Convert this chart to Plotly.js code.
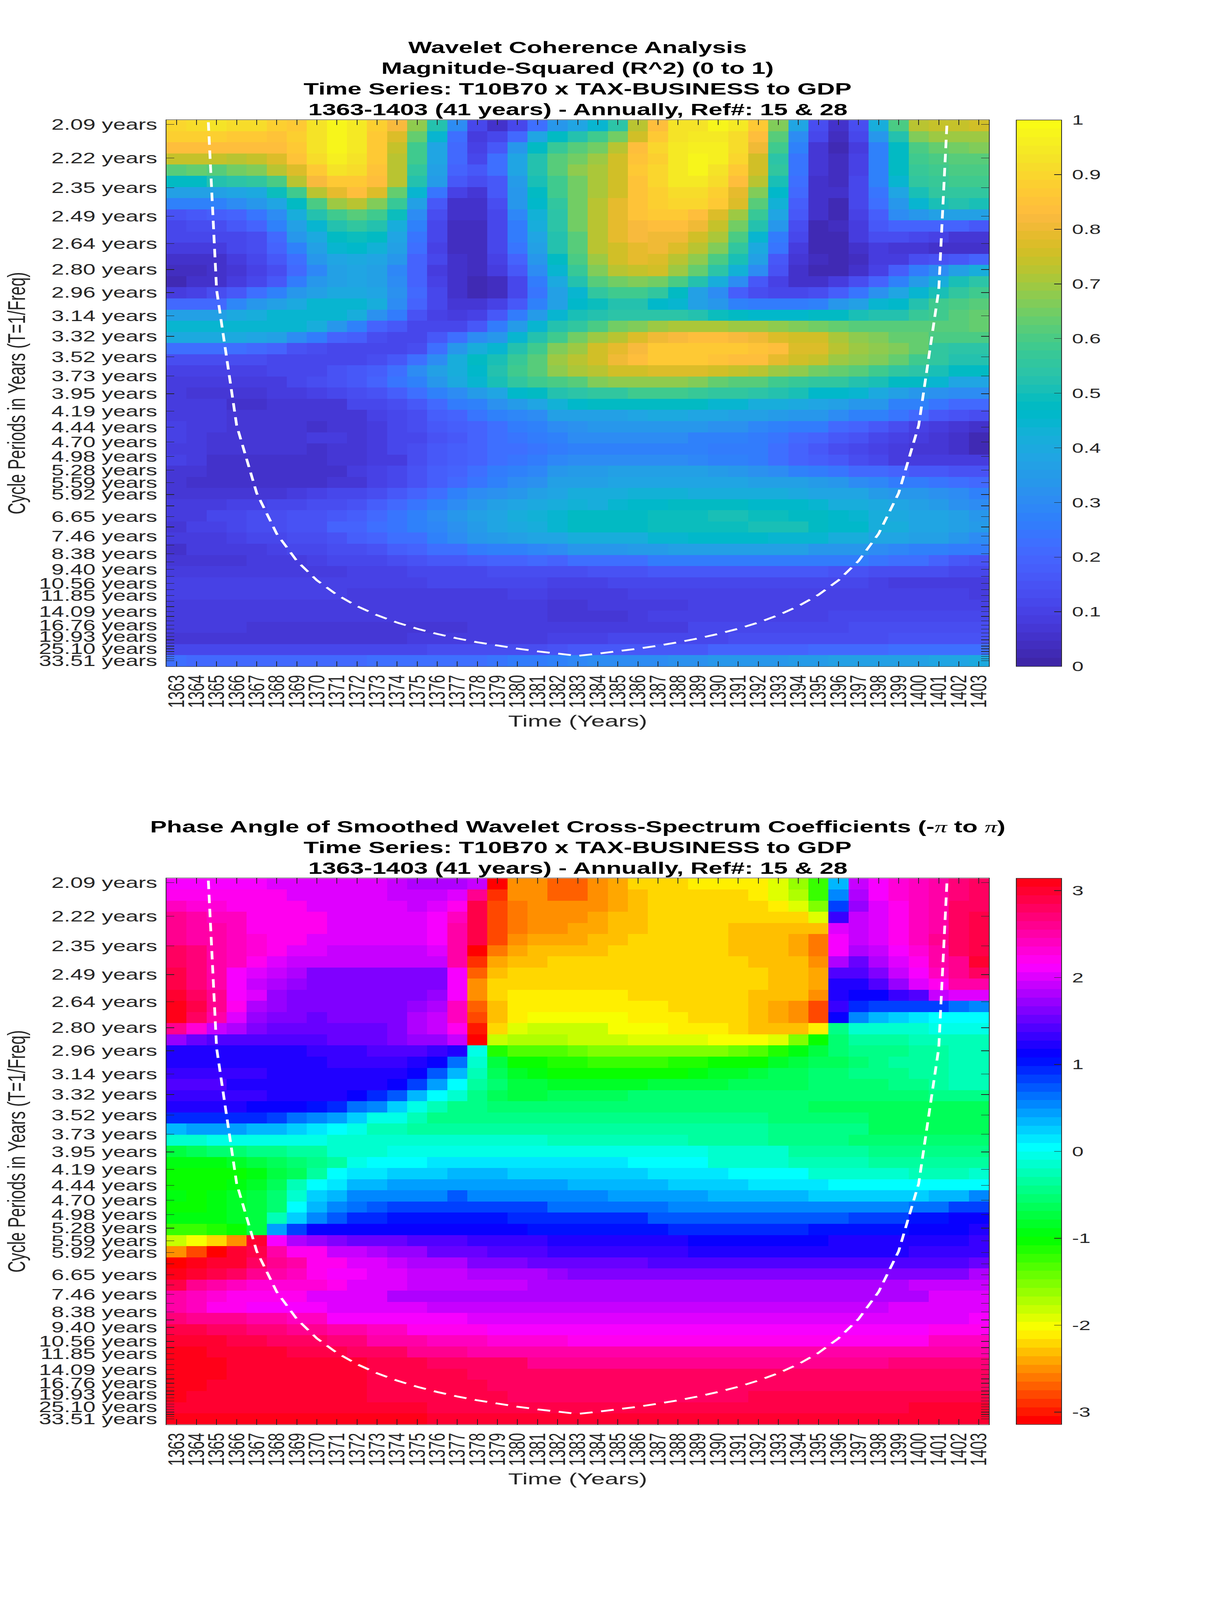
<!DOCTYPE html>
<html><head><meta charset="utf-8"><title>Wavelet Coherence</title>
<script src="https://cdn.plot.ly/plotly-3.0.1.min.js"></script>
<style>html,body{margin:0;padding:0;background:#fff;overflow:hidden}#chart{width:3125px;height:6252px;transform-origin:0 0}</style>
</head><body><div id="chart"></div>
<script>
const years=[1363,1364,1365,1366,1367,1368,1369,1370,1371,1372,1373,1374,1375,1376,1377,1378,1379,1380,1381,1382,1383,1384,1385,1386,1387,1388,1389,1390,1391,1392,1393,1394,1395,1396,1397,1398,1399,1400,1401,1402,1403];
const periods=[2.09,2.22,2.35,2.49,2.64,2.80,2.96,3.14,3.32,3.52,3.73,3.95,4.19,4.44,4.70,4.98,5.28,5.59,5.92,6.27,6.65,7.05,7.46,7.90,8.38,8.88,9.40,9.96,10.56,11.18,11.85,12.55,13.30,14.09,14.92,15.81,16.76,17.75,18.80,19.93,21.11,22.36,23.69,25.10,26.59,28.18,29.85,31.62,33.51];
const labelledPeriods=[2.09,2.22,2.35,2.49,2.64,2.80,2.96,3.14,3.32,3.52,3.73,3.95,4.19,4.44,4.70,4.98,5.28,5.59,5.92,6.65,7.46,8.38,9.40,10.56,11.85,14.09,16.76,19.93,25.10,33.51];
const coiYears=[1364,1365,1366,1367,1368,1369,1370,1371,1372,1373,1374,1375,1376,1377,1378,1379,1380,1381,1382,1383,1384,1385,1386,1387,1388,1389,1390,1391,1392,1393,1394,1395,1396,1397,1398,1399,1400,1401,1402];
const coiPeriods=[1.47,2.94,4.41,5.88,7.35,8.82,10.29,11.76,13.23,14.70,16.17,17.64,19.11,20.58,22.05,23.52,24.99,26.46,27.93,29.40,27.93,26.46,24.99,23.52,22.05,20.58,19.11,17.64,16.17,14.70,13.23,11.76,10.29,8.82,7.35,5.88,4.41,2.94,1.47];
// R-squared x 100, one row per period (top row first), one value per year
const cohPercent=[
[90,92,93,91,91,88,87,93,97,95,88,82,68,53,30,11,5,12,22,33,38,44,54,72,83,93,93,97,94,87,67,38,13,5,13,42,60,72,74,74,76],
[88,88,88,87,87,85,88,93,97,95,86,78,64,45,23,9,11,21,38,47,52,58,65,76,87,93,95,95,92,84,62,30,11,4,11,33,52,67,69,69,69],
[84,84,84,83,84,84,87,93,97,94,87,74,58,39,21,10,16,33,48,57,61,65,72,83,90,95,96,96,92,80,58,28,7,3,9,28,47,60,63,65,67],
[74,74,74,72,74,78,85,92,96,93,86,73,58,38,21,12,22,38,53,62,65,69,75,85,88,95,98,96,90,75,54,24,7,4,10,28,47,58,60,62,62],
[62,63,62,65,67,72,77,86,93,92,85,73,56,37,20,16,22,38,53,62,68,71,76,87,90,95,97,93,86,75,55,24,7,4,10,28,47,57,59,60,60],
[47,48,52,54,55,60,72,82,87,87,83,72,53,35,17,14,17,35,50,58,65,71,76,85,90,94,95,92,84,72,51,22,6,4,11,27,45,56,57,58,58],
[37,37,37,39,40,49,58,72,79,84,77,63,45,24,10,7,16,34,48,58,65,71,76,85,89,92,92,88,79,66,46,21,6,5,12,24,38,50,55,55,55],
[27,27,28,30,33,38,47,60,69,73,66,57,37,17,6,6,14,33,46,56,65,72,79,85,88,90,90,86,77,62,43,18,6,3,12,22,34,44,50,52,50],
[15,17,18,20,24,31,41,52,58,61,58,49,31,13,5,5,12,29,43,54,65,72,79,85,86,86,84,77,69,57,38,16,5,3,10,18,30,34,36,36,37],
[12,13,14,16,20,27,37,45,53,55,53,42,27,12,4,4,12,26,41,54,65,72,79,82,83,83,80,74,65,52,34,13,3,4,9,17,20,20,20,20,17],
[11,11,11,12,14,21,33,40,47,49,47,39,24,11,4,4,12,26,38,52,62,72,79,82,81,80,76,71,60,45,26,11,3,3,8,13,13,12,10,7,7],
[9,9,9,11,13,19,28,37,45,46,43,36,22,10,4,4,12,24,36,52,62,72,76,79,80,78,73,67,56,40,24,9,3,3,5,8,7,7,5,5,5],
[6,5,6,8,11,17,23,33,39,40,39,33,20,11,5,4,10,20,34,47,60,70,75,79,77,73,68,60,50,36,17,7,4,3,4,8,9,13,15,17,19],
[4,4,5,7,10,14,21,29,36,38,37,29,19,8,6,4,9,17,31,44,57,67,73,74,75,70,63,54,43,30,15,6,3,3,6,10,18,25,30,36,41],
[3,5,6,8,12,17,26,33,37,38,37,31,20,10,5,3,4,12,26,40,53,61,65,66,65,60,53,42,30,17,10,5,5,8,13,20,28,35,42,50,54],
[8,10,13,17,22,28,33,37,40,40,38,32,21,12,6,3,4,12,24,36,45,55,58,59,55,48,37,30,18,13,11,11,14,18,24,32,38,44,50,56,59],
[21,21,21,29,33,36,40,44,44,44,41,30,20,11,7,7,10,17,27,37,46,49,52,52,46,44,37,33,28,25,25,25,27,33,36,44,46,53,58,60,61],
[36,36,36,40,41,44,45,45,45,41,32,25,15,10,8,10,16,25,35,44,50,53,54,54,54,54,52,49,48,46,46,46,47,47,50,52,53,57,59,61,63],
[44,44,44,45,45,45,45,41,33,28,20,16,12,11,12,17,25,35,44,52,56,60,65,67,70,71,71,71,70,70,68,67,65,63,62,62,62,62,62,62,63],
[40,40,40,40,38,36,30,26,20,18,13,12,11,16,22,30,33,44,53,58,65,70,73,77,81,82,83,83,82,81,78,75,76,71,68,66,64,63,60,60,60],
[23,23,22,22,21,19,15,14,12,11,11,11,14,22,33,42,44,52,58,66,70,75,79,82,87,87,87,87,87,85,83,78,77,73,70,68,66,63,56,54,54],
[13,13,13,13,13,12,12,12,12,12,14,17,23,31,41,47,50,57,62,69,73,76,81,83,86,87,87,85,84,83,79,76,74,70,68,66,63,59,56,53,52],
[10,10,10,10,10,11,11,12,15,17,18,23,31,36,42,46,53,58,62,68,71,73,75,76,78,78,78,75,74,72,70,68,65,63,61,59,56,54,51,47,47],
[8,8,8,8,8,9,11,13,15,16,19,24,28,33,40,45,51,55,58,60,62,66,68,68,68,68,66,64,62,61,59,57,56,55,53,50,48,47,44,38,38],
[8,7,7,7,7,8,8,10,12,13,15,18,23,27,31,35,39,46,48,52,54,55,56,58,59,59,57,56,55,54,53,51,46,46,44,40,36,33,32,30,30],
[8,8,8,6,6,7,7,7,7,11,12,13,17,21,26,28,32,35,38,43,46,47,47,47,47,47,47,45,44,42,41,40,38,37,33,33,27,27,24,21,21],
[8,8,8,7,7,7,7,7,7,7,10,11,13,18,20,24,27,29,31,36,37,37,37,39,40,40,38,38,37,36,35,34,33,31,27,27,24,21,17,15,13],
[10,8,8,7,7,7,7,5,7,7,9,11,13,16,18,20,23,26,27,30,32,34,34,34,34,34,34,32,32,29,27,26,26,21,19,17,14,10,8,7,6],
[10,9,7,7,7,7,7,8,8,7,9,11,12,15,17,19,22,24,25,27,30,30,31,31,30,30,28,28,27,26,24,21,19,17,15,11,10,8,7,5,3],
[9,9,7,7,7,7,7,6,7,7,9,11,13,16,18,20,22,23,24,26,27,28,28,28,28,27,27,26,26,25,23,20,16,14,12,10,8,7,7,5,3],
[10,9,6,6,6,6,6,6,7,7,8,9,13,16,18,20,22,24,25,29,30,31,31,31,31,31,29,28,27,26,23,20,18,17,13,11,9,9,8,8,8],
[7,7,6,6,6,6,6,5,5,8,10,11,15,18,20,22,25,27,29,33,35,35,36,36,36,36,36,35,33,32,30,28,26,24,21,21,19,17,16,15,15],
[7,5,5,5,5,5,5,6,7,7,10,12,15,18,21,24,27,30,32,36,37,37,38,39,39,39,39,39,38,37,37,36,35,34,31,29,26,25,24,23,21],
[7,7,7,7,7,7,9,10,11,12,14,16,20,23,27,30,32,34,36,38,41,41,42,43,43,43,42,42,41,41,41,40,39,39,38,35,34,33,32,30,28],
[8,8,8,10,10,11,12,13,14,15,18,21,24,27,30,33,36,38,40,41,43,42,44,46,46,47,48,48,48,46,46,46,45,42,41,40,38,37,35,32,30],
[9,9,12,12,13,13,15,15,16,18,21,24,27,30,33,36,39,41,43,44,47,47,47,47,49,49,49,50,50,49,49,47,47,46,45,41,40,39,38,37,34],
[7,10,10,12,14,14,15,15,19,20,22,24,27,29,32,35,38,40,42,44,47,47,47,47,49,49,49,49,49,50,50,50,47,46,46,42,41,39,38,37,35],
[8,8,8,10,12,12,13,14,15,18,19,22,23,27,30,33,35,36,38,39,41,41,42,42,45,45,46,46,46,46,45,44,44,42,41,39,38,37,36,33,31],
[6,8,8,8,9,10,11,12,13,13,15,18,20,22,23,25,27,28,29,31,33,33,34,35,35,36,36,36,36,36,36,36,34,33,33,30,29,28,27,26,25],
[7,7,7,7,9,9,9,10,11,11,12,13,15,16,17,18,19,20,21,20,22,22,23,23,25,25,25,25,25,25,25,25,25,25,25,24,23,22,19,17,15],
[8,8,8,8,8,8,9,9,9,10,10,10,11,11,12,12,13,13,14,14,14,15,15,15,16,16,16,16,16,16,16,16,16,15,15,14,14,13,13,12,12],
[10,10,10,10,10,10,10,10,10,10,10,10,10,11,11,11,11,11,11,10,10,10,12,12,12,12,12,12,12,12,12,12,12,12,12,10,9,9,9,9,9],
[10,10,10,10,10,10,10,10,10,9,9,9,9,9,9,9,9,10,10,8,8,8,8,10,10,10,10,10,10,10,10,10,10,10,10,10,10,10,10,10,9],
[8,8,8,8,8,8,8,8,9,9,9,9,9,9,9,9,9,9,9,7,7,9,9,9,9,9,10,10,10,10,10,10,10,10,10,10,10,10,10,10,10],
[8,8,8,8,8,8,8,8,8,8,8,8,8,8,9,9,9,9,9,7,7,7,7,9,10,10,10,10,10,10,10,10,10,11,11,11,11,11,11,11,11],
[8,8,8,8,7,7,7,7,7,7,7,7,7,7,7,9,9,9,9,8,8,8,9,9,9,9,11,11,11,11,12,12,12,12,13,13,13,14,14,14,14],
[7,7,7,7,7,7,7,7,7,7,7,7,9,9,9,9,9,9,9,10,10,10,11,11,11,12,12,12,13,13,13,14,14,14,14,14,15,15,15,15,15],
[12,12,12,12,12,12,12,12,12,12,12,12,12,13,13,13,13,13,13,15,16,16,16,16,16,17,17,19,19,20,20,20,21,21,21,21,22,22,23,23,23],
[22,21,21,21,21,21,21,21,21,21,22,22,22,22,23,23,24,25,26,28,29,30,30,31,31,32,32,33,33,34,34,35,35,36,36,37,37,37,38,39,40]
];
// Phase angle in radians, one row per period (top row first), one value per year
const phaseRadians=[
[2.1,2.1,2.1,2.1,2.1,2,2,2,2,2,2,1.9,1.78,1.78,1.78,1.9,3.14,-2.55,-2.55,-2.7,-2.7,-2.55,-2.45,-2.27,-2.27,-2.27,-2.15,-2.15,-2.15,-2.15,-2,-1.7,-1.3,0.3,1.85,2.1,2.3,2.4,2.5,2.65,2.7],
[2.12,2.12,2.12,2.12,2.12,2.12,2,2,2,2,2,1.9,1.9,1.9,2,2.6,-2.9,-2.55,-2.55,-2.7,-2.7,-2.55,-2.45,-2.35,-2.27,-2.27,-2.27,-2.27,-2.27,-2.15,-2,-1.8,-1.3,0.45,1.8,2.1,2.3,2.4,2.5,2.65,2.7],
[2.35,2.25,2.25,2.12,2.12,2.12,2.12,2,2,2,2,2,1.85,2,2.12,2.85,-2.85,-2.65,-2.55,-2.55,-2.55,-2.55,-2.45,-2.35,-2.27,-2.27,-2.27,-2.27,-2.27,-2.27,-2.12,-2,-1.6,0.75,1.65,1.95,2.2,2.4,2.5,2.7,2.75],
[2.55,2.45,2.4,2.35,2.15,2.15,2.12,2.12,2,2,2,2,2,2.1,2.4,2.85,-2.85,-2.65,-2.55,-2.55,-2.55,-2.45,-2.4,-2.35,-2.27,-2.27,-2.27,-2.27,-2.27,-2.27,-2.27,-2.27,-2,1.3,1.85,2,2.2,2.4,2.5,2.75,2.8],
[2.6,2.5,2.45,2.35,2.2,2.15,2.15,2.12,2,2,2,2,2,2.1,2.45,2.85,-2.85,-2.65,-2.55,-2.55,-2.45,-2.45,-2.35,-2.35,-2.27,-2.27,-2.27,-2.27,-2.35,-2.35,-2.35,-2.35,-2.4,1.95,1.85,2,2.2,2.4,2.5,2.75,2.8],
[2.6,2.5,2.45,2.35,2.25,2.2,2.15,2,2,2,2,2,2,2.1,2.45,2.85,-2.85,-2.6,-2.5,-2.45,-2.45,-2.4,-2.35,-2.27,-2.27,-2.27,-2.27,-2.27,-2.35,-2.35,-2.35,-2.45,-2.65,2.1,1.9,2,2.15,2.4,2.55,2.75,2.85],
[2.75,2.65,2.5,2.35,2.25,2.2,2,2,1.9,1.9,1.9,1.9,1.9,2,2.45,3.14,-2.65,-2.5,-2.4,-2.35,-2.35,-2.35,-2.27,-2.27,-2.27,-2.27,-2.27,-2.27,-2.35,-2.35,-2.35,-2.45,-2.65,2.1,1.8,1.9,2.1,2.3,2.5,2.7,2.85],
[2.75,2.65,2.5,2.35,2.15,2,1.9,1.9,1.85,1.85,1.85,1.85,1.85,1.9,2.45,-2.95,-2.45,-2.35,-2.35,-2.27,-2.27,-2.27,-2.27,-2.27,-2.27,-2.27,-2.27,-2.27,-2.27,-2.35,-2.35,-2.35,-2.6,1.75,1.5,1.75,2,2.2,2.45,2.6,2.9],
[2.85,2.65,2.5,2.1,1.95,1.85,1.75,1.6,1.6,1.6,1.6,1.6,1.6,1.6,2.1,-2.7,-2.4,-2.27,-2.27,-2.27,-2.27,-2.27,-2.27,-2.27,-2.27,-2.27,-2.27,-2.27,-2.27,-2.27,-2.35,-2.35,-2.45,1.4,1.35,1.55,1.85,2.1,2.35,2.55,2.75],
[2.85,2.65,2.5,2.1,1.85,1.8,1.7,1.55,1.55,1.55,1.55,1.55,1.55,1.55,2.1,-2.6,-2.27,-2.27,-2.27,-2.27,-2.27,-2.27,-2.27,-2.27,-2.27,-2.27,-2.27,-2.27,-2.27,-2.27,-2.35,-2.35,-2.45,1.15,1.15,1.35,1.65,1.95,2.2,2.45,2.5],
[2.95,2.75,2.55,2.1,1.95,1.7,1.6,1.55,1.55,1.55,1.55,1.55,1.55,1.7,2.1,-2.6,-2.27,-2.15,-2.15,-2.15,-2.15,-2.15,-2.15,-2.27,-2.27,-2.27,-2.27,-2.27,-2.27,-2.35,-2.35,-2.35,-2.6,1.15,1.05,1.05,1.25,1.4,1.85,1.95,2],
[3.05,2.8,2.55,2.15,1.75,1.7,1.55,1.55,1.55,1.55,1.55,1.55,1.7,1.8,2.4,-2.7,-2.35,-2.15,-2.15,-2.15,-2.15,-2.15,-2.15,-2.15,-2.15,-2.27,-2.27,-2.27,-2.27,-2.35,-2.45,-2.6,-2.85,1.25,0.9,0.75,0.75,0.75,0.75,0.6,0.45],
[3,2.75,2.5,1.95,1.7,1.6,1.6,1.45,1.55,1.55,1.55,1.6,1.75,1.85,2.4,-2.85,-2.35,-2.15,-2.05,-2.05,-2.05,-2.05,-2.05,-2.15,-2.15,-2.15,-2.27,-2.27,-2.27,-2.35,-2.45,-2.6,-2.85,1.05,0.5,0.3,0.2,0.1,0.03,0,-0.02],
[2.6,2.25,1.85,1.75,1.6,1.5,1.45,1.45,1.45,1.5,1.5,1.55,1.75,1.9,2.2,-3,-2.3,-2,-1.9,-1.9,-1.9,-1.9,-2.05,-2.05,-2.05,-2.15,-2.15,-2.15,-2.27,-2.35,-2.35,-2.35,-2.2,-0.45,-0.15,-0.15,-0.15,-0.15,-0.12,-0.12,-0.12],
[1.65,1.5,1.4,1.4,1.4,1.4,1.4,1.4,1.45,1.5,1.5,1.55,1.65,1.7,1.85,3.14,-1.85,-1.75,-1.75,-1.75,-1.85,-1.85,-1.85,-1.95,-1.95,-1.95,-1.95,-2.1,-2.1,-2.1,-1.95,-1.6,-1.05,-0.6,-0.4,-0.4,-0.4,-0.3,-0.3,-0.3,-0.3],
[1.15,1.15,1.15,1.15,1.15,1.2,1.2,1.3,1.3,1.3,1.4,1.4,1.4,1.3,1.15,-0.05,-1.2,-1.35,-1.4,-1.35,-1.45,-1.55,-1.55,-1.55,-1.55,-1.55,-1.55,-1.55,-1.45,-1.35,-1.15,-1,-0.75,-0.6,-0.5,-0.45,-0.45,-0.4,-0.35,-0.3,-0.3],
[1.15,1.15,1.15,1.15,1.15,1.2,1.2,1.2,1.3,1.3,1.3,1.3,1.2,1.05,0.55,-0.2,-0.75,-1.05,-1.05,-1.2,-1.2,-1.25,-1.25,-1.3,-1.3,-1.2,-1.2,-1.1,-1.05,-1.1,-0.9,-0.75,-0.7,-0.65,-0.55,-0.45,-0.4,-0.4,-0.35,-0.3,-0.3],
[1.25,1.25,1.25,1.25,1.25,1.2,1.2,1.2,1.2,1.2,1.2,1.15,1.05,0.7,0.3,-0.3,-0.7,-0.85,-1,-1.05,-1.05,-1.1,-1.1,-1.1,-1.1,-1.05,-1,-0.9,-0.85,-0.8,-0.7,-0.65,-0.6,-0.6,-0.5,-0.5,-0.45,-0.4,-0.35,-0.3,-0.3],
[1.35,1.35,1.35,1.2,1.2,1.2,1.2,1.2,1.2,1.15,1.15,1.05,0.75,0.4,0,-0.35,-0.6,-0.75,-0.8,-0.85,-0.85,-0.85,-0.85,-0.85,-0.8,-0.8,-0.8,-0.8,-0.7,-0.65,-0.65,-0.65,-0.6,-0.6,-0.55,-0.55,-0.5,-0.45,-0.4,-0.3,-0.3],
[1.3,1.3,1.3,1.3,1.25,1.2,1.2,1.2,1.15,1.05,0.85,0.65,0.25,0,-0.2,-0.45,-0.65,-0.75,-0.75,-0.7,-0.7,-0.7,-0.7,-0.58,-0.58,-0.58,-0.58,-0.58,-0.58,-0.58,-0.58,-0.58,-0.58,-0.63,-0.63,-0.63,-0.63,-0.55,-0.5,-0.45,-0.45],
[1.15,1.15,1.15,1.15,1.05,1.05,1.05,0.95,0.85,0.6,0.45,0.2,-0.1,-0.25,-0.45,-0.5,-0.6,-0.6,-0.6,-0.55,-0.55,-0.55,-0.55,-0.55,-0.55,-0.55,-0.55,-0.55,-0.55,-0.55,-0.55,-0.55,-0.68,-0.68,-0.68,-0.68,-0.68,-0.68,-0.68,-0.68,-0.68],
[0.9,0.9,0.9,0.9,0.9,0.75,0.6,0.45,0.35,0.15,-0.05,-0.1,-0.3,-0.45,-0.48,-0.5,-0.5,-0.5,-0.5,-0.45,-0.45,-0.45,-0.45,-0.45,-0.45,-0.45,-0.45,-0.45,-0.45,-0.45,-0.55,-0.55,-0.55,-0.55,-0.55,-0.65,-0.65,-0.65,-0.65,-0.65,-0.65],
[0.3,0.42,0.42,0.42,0.32,0.32,0.22,0.12,-0.02,-0.12,-0.25,-0.25,-0.4,-0.4,-0.4,-0.4,-0.4,-0.4,-0.4,-0.35,-0.35,-0.35,-0.35,-0.35,-0.35,-0.35,-0.4,-0.4,-0.4,-0.4,-0.5,-0.5,-0.5,-0.5,-0.5,-0.65,-0.65,-0.65,-0.65,-0.65,-0.65],
[-0.2,-0.2,-0.05,-0.05,-0.05,-0.05,-0.05,-0.05,-0.2,-0.2,-0.2,-0.2,-0.2,-0.2,-0.2,-0.2,-0.2,-0.2,-0.2,-0.25,-0.25,-0.25,-0.25,-0.25,-0.25,-0.25,-0.35,-0.35,-0.35,-0.35,-0.5,-0.5,-0.5,-0.5,-0.6,-0.6,-0.6,-0.6,-0.6,-0.6,-0.6],
[-0.75,-0.65,-0.55,-0.55,-0.5,-0.5,-0.42,-0.42,-0.22,-0.22,-0.22,-0.05,-0.05,-0.05,-0.05,-0.05,-0.05,-0.05,-0.05,-0.05,-0.05,-0.05,-0.05,-0.05,-0.05,-0.05,-0.05,-0.2,-0.2,-0.2,-0.2,-0.35,-0.35,-0.35,-0.35,-0.5,-0.5,-0.5,-0.5,-0.5,-0.5],
[-1,-0.95,-0.95,-0.85,-0.75,-0.7,-0.6,-0.5,-0.35,-0.1,0,0,0,0.1,0.1,0.1,0.1,0.1,0.1,0.1,0.1,0.1,0.1,0,0,0,0,-0.15,-0.15,-0.15,-0.15,-0.3,-0.3,-0.3,-0.3,-0.42,-0.42,-0.42,-0.42,-0.42,-0.42],
[-1.05,-1.05,-1.05,-1.05,-0.95,-0.75,-0.65,-0.35,0,0.1,0.1,0.2,0.2,0.2,0.3,0.3,0.3,0.15,0.15,0.2,0.2,0.2,0.2,0.2,0.08,0.08,0.08,0.08,0,0,0,0,-0.15,-0.15,-0.15,-0.15,-0.15,-0.3,-0.3,-0.3,-0.15],
[-1.1,-1.1,-1.05,-0.95,-0.9,-0.7,-0.25,0,0.1,0.25,0.3,0.4,0.4,0.4,0.4,0.4,0.4,0.4,0.4,0.4,0.3,0.3,0.3,0.3,0.3,0.2,0.2,0.2,0.2,0.07,0.07,0.07,0.07,0,0,0,0,0,0,0,0],
[-1,-1.05,-1,-0.85,-0.8,-0.6,-0.15,0.15,0.25,0.45,0.45,0.5,0.5,0.5,0.65,0.5,0.5,0.5,0.5,0.45,0.45,0.45,0.4,0.4,0.4,0.4,0.4,0.3,0.3,0.3,0.3,0.3,0.15,0.15,0.15,0.15,0.15,0.15,0.3,0.3,0.45],
[-1.05,-1.05,-1,-0.85,-0.75,-0.55,0,0.25,0.45,0.55,0.7,0.75,0.75,0.75,0.75,0.75,0.75,0.75,0.75,0.6,0.6,0.6,0.6,0.6,0.6,0.5,0.5,0.5,0.5,0.5,0.5,0.5,0.5,0.5,0.5,0.5,0.5,0.6,0.6,0.75,0.75],
[-1,-1,-1,-0.85,-0.75,-0.3,0.2,0.5,0.65,0.85,0.85,0.95,0.95,0.95,0.95,0.95,0.95,0.85,0.85,0.85,0.85,0.85,0.85,0.85,0.7,0.7,0.7,0.7,0.7,0.7,0.7,0.7,0.7,0.7,0.8,0.8,0.8,0.95,0.95,1.05,1.05],
[-1.3,-1.3,-1.2,-1.05,-0.75,0.35,0.8,1.05,1.05,1.05,1.05,1.05,1.05,1.05,1.05,1.05,1.05,1.05,1,1,1,1,1,1,1,0.9,0.9,0.9,0.9,0.9,0.9,0.9,1,1,1,1,1,1.05,1.05,1.05,1.15],
[-1.85,-2.05,-2.25,-2.6,2.9,2.1,1.8,1.7,1.55,1.45,1.45,1.45,1.35,1.35,1.35,1.25,1.25,1.25,1.25,1.15,1.15,1.15,1.15,1.15,1.15,1.15,1.05,1.05,1.05,1.05,1.05,1.05,1.05,1.15,1.15,1.15,1.15,1.15,1.15,1.15,1.25],
[-2.6,-2.85,-3.14,2.95,2.85,2.5,2.15,2.15,1.9,1.9,1.8,1.65,1.65,1.5,1.5,1.5,1.4,1.4,1.4,1.3,1.3,1.3,1.3,1.3,1.3,1.3,1.2,1.2,1.2,1.2,1.2,1.2,1.2,1.2,1.2,1.2,1.2,1.3,1.3,1.3,1.3],
[3.14,3.05,2.95,2.95,2.75,2.6,2.45,2.15,2.15,2,2,1.9,1.75,1.75,1.75,1.6,1.6,1.6,1.45,1.45,1.45,1.45,1.45,1.45,1.35,1.35,1.35,1.35,1.35,1.35,1.35,1.35,1.35,1.35,1.35,1.35,1.35,1.35,1.35,1.35,1.45],
[3,2.95,2.8,2.7,2.6,2.5,2.35,2.15,2.1,2.1,2,2,1.85,1.85,1.85,1.75,1.75,1.75,1.75,1.65,1.6,1.6,1.6,1.6,1.6,1.6,1.6,1.6,1.6,1.6,1.6,1.6,1.6,1.6,1.6,1.6,1.6,1.6,1.6,1.6,1.75],
[2.85,2.6,2.5,2.4,2.25,2.25,2.25,2.25,2.15,1.95,1.95,1.95,1.85,1.85,1.85,1.85,1.85,1.85,1.75,1.75,1.75,1.75,1.75,1.75,1.75,1.75,1.75,1.75,1.75,1.75,1.75,1.75,1.75,1.75,1.75,1.75,1.75,1.85,1.85,1.85,1.85],
[2.45,2.35,2.3,2.15,2.15,2.15,2.15,1.95,1.95,1.95,1.95,1.8,1.8,1.8,1.8,1.8,1.8,1.8,1.8,1.8,1.8,1.8,1.8,1.8,1.8,1.8,1.8,1.8,1.8,1.8,1.8,1.8,1.8,1.8,1.8,1.8,1.8,1.8,1.95,1.95,1.95],
[2.45,2.35,2.2,2.2,2.1,2.1,2.1,2.1,2,2,2,2,2,1.85,1.85,1.85,1.85,1.85,1.85,1.85,1.85,1.85,1.85,1.85,1.85,1.85,1.85,1.85,1.85,1.85,1.85,1.85,1.85,1.85,1.85,1.85,1.98,1.98,1.98,1.98,1.98],
[2.65,2.6,2.6,2.55,2.45,2.45,2.35,2.35,2.1,2.1,2.1,2.1,2.1,2.1,2.1,1.95,1.95,1.95,1.95,1.95,1.95,1.95,1.95,1.95,1.95,1.95,1.95,1.95,1.95,1.95,1.95,1.95,1.95,1.95,1.95,1.95,1.95,1.95,1.95,1.95,2.1],
[2.85,2.85,2.75,2.75,2.65,2.65,2.55,2.55,2.45,2.45,2.35,2.35,2.2,2.2,2.2,2.2,2.1,2.1,2.1,2.1,2.1,2.1,2.1,2.1,2.1,2.1,2.1,2.1,2.1,2.1,2.1,2.1,2.1,2.1,2.1,2.1,2.1,2.1,2.2,2.2,2.2],
[2.95,2.95,2.95,2.85,2.85,2.75,2.75,2.75,2.65,2.65,2.5,2.5,2.5,2.4,2.4,2.4,2.25,2.25,2.25,2.3,2.2,2.2,2.2,2.2,2.2,2.2,2.2,2.2,2.2,2.2,2.2,2.2,2.2,2.2,2.2,2.2,2.2,2.2,2.35,2.35,2.35],
[3.05,3.05,2.95,2.95,2.95,2.95,2.85,2.85,2.85,2.75,2.75,2.75,2.6,2.6,2.6,2.5,2.5,2.5,2.5,2.5,2.42,2.42,2.42,2.42,2.42,2.42,2.42,2.42,2.42,2.42,2.42,2.42,2.42,2.42,2.42,2.42,2.42,2.5,2.5,2.5,2.5],
[3.05,3.05,3.05,2.95,2.95,2.95,2.9,2.9,2.9,2.9,2.8,2.8,2.8,2.7,2.7,2.7,2.7,2.7,2.6,2.6,2.6,2.6,2.6,2.6,2.6,2.6,2.6,2.6,2.6,2.6,2.6,2.6,2.6,2.6,2.6,2.6,2.65,2.65,2.65,2.65,2.65],
[3.05,3.05,3.05,2.95,2.95,2.95,2.95,2.9,2.9,2.9,2.8,2.8,2.8,2.8,2.8,2.72,2.72,2.72,2.72,2.7,2.7,2.7,2.7,2.7,2.7,2.7,2.7,2.7,2.7,2.7,2.7,2.7,2.7,2.7,2.7,2.7,2.7,2.75,2.75,2.75,2.75],
[3.05,3.05,2.97,2.97,2.97,2.97,2.9,2.9,2.9,2.9,2.82,2.82,2.82,2.82,2.82,2.82,2.75,2.75,2.75,2.7,2.7,2.7,2.7,2.7,2.7,2.7,2.7,2.7,2.7,2.7,2.7,2.7,2.7,2.78,2.78,2.78,2.78,2.78,2.78,2.78,2.78],
[3.05,2.97,2.97,2.97,2.97,2.97,2.9,2.9,2.9,2.9,2.85,2.85,2.85,2.85,2.85,2.85,2.85,2.78,2.78,2.75,2.75,2.75,2.75,2.75,2.75,2.75,2.75,2.75,2.75,2.82,2.82,2.82,2.82,2.82,2.82,2.82,2.82,2.82,2.82,2.82,2.88],
[2.97,2.97,2.97,2.97,2.97,2.97,2.97,2.92,2.92,2.92,2.92,2.92,2.92,2.87,2.87,2.87,2.87,2.87,2.87,2.85,2.85,2.85,2.85,2.85,2.85,2.85,2.85,2.85,2.85,2.85,2.85,2.85,2.85,2.85,2.85,2.85,2.85,2.9,2.9,2.9,2.9],
[3.05,3.05,3.05,3.05,3,3,3,3,3,3,3,3,3,2.95,2.95,2.95,2.95,2.95,2.95,2.95,2.95,2.95,2.95,2.95,2.95,2.95,2.95,2.95,2.95,2.95,2.95,2.95,2.95,2.95,2.95,2.95,2.95,2.95,2.95,2.95,2.95]
];
const cohTitleLines=["Wavelet Coherence Analysis","Magnitude-Squared (R^2) (0 to 1)","Time Series: T10B70 x TAX-BUSINESS to GDP","1363-1403 (41 years) - Annually, Ref#: 15 & 28"];
const piGlyph="<span style='font-family:\"Liberation Serif\";font-style:italic;font-weight:normal'>π</span>";
const phaseTitleLines=["Phase Angle of Smoothed Wavelet Cross-Spectrum Coefficients (-"+piGlyph+" to "+piGlyph+")","Time Series: T10B70 x TAX-BUSINESS to GDP","1363-1403 (41 years) - Annually, Ref#: 15 & 28"];
const parulaRgb=[[.2422,.1504,.6603],[.2504,.165,.7076],[.2578,.1818,.7511],[.2647,.1978,.7952],[.2706,.2147,.8364],[.2751,.2342,.871],[.2783,.2559,.8991],[.2803,.2782,.9221],[.2813,.3006,.9414],[.281,.3228,.9579],[.2795,.3447,.9717],[.276,.3667,.9829],[.2699,.3892,.9906],[.2602,.4123,.9952],[.244,.4358,.9988],[.2206,.4603,.9973],[.1963,.4847,.9892],[.1834,.5074,.9798],[.1786,.5289,.9682],[.1764,.5499,.952],[.1687,.5703,.9359],[.154,.5902,.9218],[.146,.6091,.9079],[.138,.6276,.8973],[.1248,.6459,.8883],[.1113,.6635,.8763],[.0952,.6798,.8598],[.0689,.6948,.8394],[.0297,.7082,.8163],[.0036,.7203,.7917],[.0067,.7312,.766],[.0433,.7411,.7394],[.0964,.75,.712],[.1408,.7584,.6842],[.1717,.767,.6554],[.1938,.7758,.6251],[.2161,.7843,.5923],[.247,.7918,.5567],[.2906,.7973,.5188],[.3406,.8008,.4789],[.3909,.8029,.4354],[.4456,.8024,.3909],[.5044,.7993,.348],[.5616,.7942,.3045],[.6174,.7876,.2612],[.672,.7793,.2227],[.7242,.7698,.191],[.7738,.7598,.1646],[.8203,.7498,.1535],[.8634,.7406,.1596],[.9035,.733,.1774],[.9393,.7288,.21],[.9728,.7298,.2394],[.9956,.7434,.2371],[.997,.7659,.2199],[.9952,.7893,.2028],[.9892,.8136,.1885],[.9786,.8386,.1766],[.9676,.8639,.1643],[.961,.889,.1537],[.9597,.9135,.1423],[.9628,.9373,.1265],[.9691,.9606,.1064],[.9769,.9839,.0805]];

function stepScale(cols){const n=cols.length,s=[];cols.forEach((c,i)=>{s.push([i/n,c]);s.push([(i+1)/n,c]);});return s;}
const parula=stepScale(parulaRgb.map(c=>`rgb(${c.map(v=>Math.round(v*255)).join(",")})`));
function hsvColor(h){const k=h*6,i=Math.floor(k)%6,f=k-Math.floor(k);const t=[[1,f,0],[1-f,1,0],[0,1,f],[0,1-f,1],[f,0,1],[1,0,1-f]][i];return `rgb(${t.map(v=>Math.round(v*255)).join(",")})`;}
const hsv=stepScale(Array.from({length:64},(_,i)=>hsvColor(i/64)));
// Colours were read as bin colours of a 64-level map: centre each reading in its bin.
const HALF_BIN=Math.PI/64;
const phaseCentred=phaseRadians.map(r=>r.map(v=>{const c=v+HALF_BIN;return c>Math.PI?c-2*Math.PI:c;}));

const W=3125,H=6252,INK="#262626",FONT='"Liberation Sans",Arial,sans-serif';
const f0=16/33.51,fN=1/33.51,df=(f0-fN)/48;
const rowY=periods.map((_,i)=>f0-i*df);
const tickF=periods.map(p=>1/p);
const tickT=periods.map(p=>labelledPeriods.includes(p)?p.toFixed(2)+" years":"");
const px=v=>v/W, py=v=>1-v/H;
const L=426,R=2531,boxes=[{t:469,b:2604},{t:3432,b:5566}];
const axisCommon={showgrid:false,zeroline:false,showline:true,linecolor:INK,linewidth:2,mirror:"ticks",ticks:"inside",ticklen:20,tickwidth:2,tickcolor:INK,tickfont:{family:FONT,size:58,color:INK},layer:"above traces"};
function xAxis(b,anchor){return Object.assign({},axisCommon,{domain:[px(L),px(R)],range:[1362.5,1403.5],anchor,tickmode:"array",tickvals:years,ticktext:years.map(String),tickangle:-90,ticklabelstandoff:8,title:{text:"Time (Years)",font:{family:FONT,size:63,color:INK},standoff:29}});}
function yAxis(b,anchor){return Object.assign({},axisCommon,{domain:[py(b.b),py(b.t)],range:[fN-df/2,f0+df/2],anchor,tickmode:"array",tickvals:tickF,ticktext:tickT,ticklabelstandoff:10,title:{text:"Cycle Periods in Years (T=1/Freq)",font:{family:FONT,size:63,color:INK},standoff:14}});}
function cbar(b,extra){return Object.assign({x:2601/W,xanchor:"left",xref:"paper",yref:"paper",y:py(b.b),yanchor:"bottom",len:(b.b-b.t)/H,lenmode:"fraction",thickness:116,thicknessmode:"pixels",xpad:0,ypad:0,outlinecolor:INK,outlinewidth:2,ticks:"inside",ticklen:20,tickwidth:2,tickcolor:INK,tickfont:{family:FONT,size:53,color:INK},borderwidth:0},extra);}
const pad="\u00a0";

const data=[
{type:"heatmap",x:years,y:rowY,z:cohPercent.map(r=>r.map(v=>v/100)),zmin:0,zmax:1,colorscale:parula,zsmooth:false,hoverinfo:"skip",xaxis:"x",yaxis:"y",
 colorbar:cbar(boxes[0],{tickmode:"array",tickvals:[0,.1,.2,.3,.4,.5,.6,.7,.8,.9,1],ticktext:["0","0.1","0.2","0.3","0.4","0.5","0.6","0.7","0.8","0.9","1"].map(t=>pad+t)})},
{type:"scatter",mode:"lines",x:coiYears,y:coiPeriods.map(p=>1/p),xaxis:"x",yaxis:"y",line:{color:"#fff",width:7,dash:"33px,22px"},hoverinfo:"skip",showlegend:false},
{type:"heatmap",x:years,y:rowY,z:phaseCentred,zmin:-Math.PI,zmax:Math.PI,colorscale:hsv,zsmooth:false,hoverinfo:"skip",xaxis:"x2",yaxis:"y2",
 colorbar:cbar(boxes[1],{tickmode:"array",tickvals:[-3,-2,-1,0,1,2,3],ticktext:["-3","-2","-1","0","1","2","3"].map(t=>pad+t)})},
{type:"scatter",mode:"lines",x:coiYears,y:coiPeriods.map(p=>1/p),xaxis:"x2",yaxis:"y2",line:{color:"#fff",width:7,dash:"33px,22px"},hoverinfo:"skip",showlegend:false}
];
function titleAnn(text,yCenter){return {text,xref:"paper",yref:"paper",x:(L+R)/2/W,y:py(yCenter),xanchor:"center",yanchor:"middle",showarrow:false,font:{family:FONT,size:64,color:"#000"}};}
const cohCenters=[185,266,347,428], phaseCenters=[3230,3312,3393];
const annotations=[
 ...cohTitleLines.map((t,i)=>titleAnn("<b>"+t+"</b>",cohCenters[i])),
 ...phaseTitleLines.map((t,i)=>titleAnn("<b>"+t+"</b>",phaseCenters[i]))
];
const layout={width:W,height:H,margin:{l:0,r:0,t:0,b:0,pad:0,autoexpand:false},paper_bgcolor:"#fff",plot_bgcolor:"#fff",showlegend:false,font:{family:FONT,color:INK},
 xaxis:xAxis(boxes[0],"y"),yaxis:yAxis(boxes[0],"x"),xaxis2:xAxis(boxes[1],"y2"),yaxis2:yAxis(boxes[1],"x2"),annotations};
// The layout is authored at 3125x6252. If the window is shorter, fit the full height into it.
const fit=Math.min(1,window.innerHeight/H);
const el=document.getElementById("chart");
el.style.transform=`scale(1,${fit})`;
document.body.style.height=(H*fit)+"px";
Plotly.newPlot("chart",data,layout,{displayModeBar:false,responsive:false});
</script></body></html>
